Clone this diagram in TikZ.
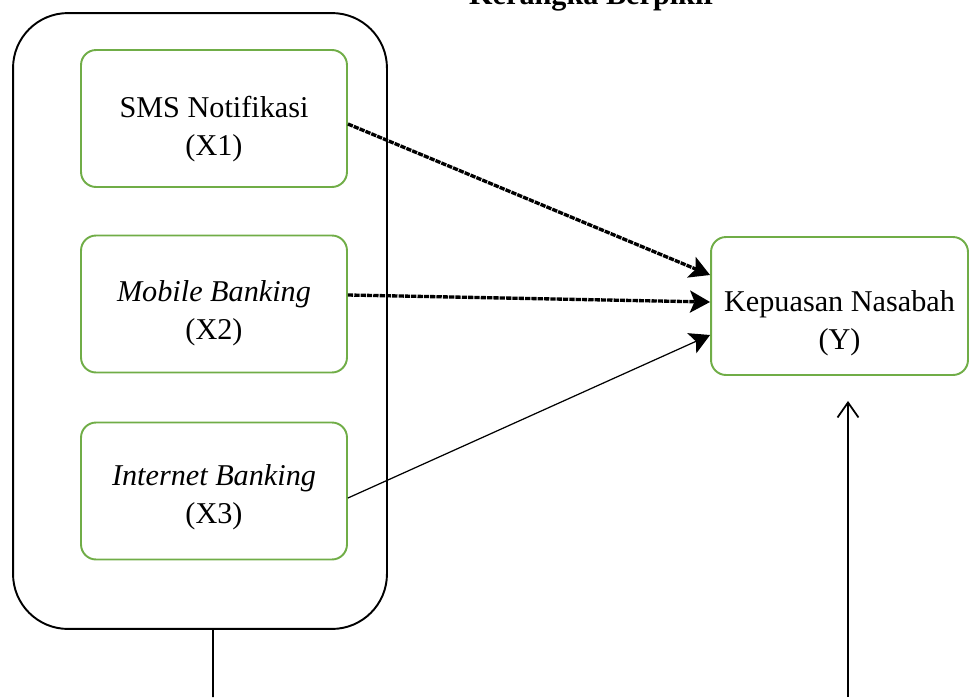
\documentclass[tikz,border=0pt]{standalone}
\usepackage{fontspec}
\setmainfont{Liberation Serif}
\usetikzlibrary{calc}
\usetikzlibrary{positioning}
\usetikzlibrary{arrows.meta}
\definecolor{hijau}{RGB}{112,173,71}
\tikzset{
	>={Stealth[length=0.4cm,width=0.44cm,inset=0.09cm]},
	rahmen/.style={
		rectangle,
		rounded corners=1.1cm,
		draw=black, line width=1.1pt,
		minimum width=7.48cm,
		minimum height=12.32cm},
	kotak/.style={
		rectangle,
		rounded corners=0.3cm,
		draw=hijau, line width=1.1pt,
		minimum width=5.32cm,
		minimum height=2.74cm},
	isi/.style={
		align=center,
		font=\fontsize{17.2}{21.6}\selectfont},
	putus/.style={->, line width=1.9pt, dash pattern=on 3pt off 0.6pt},
	garis/.style={->, line width=0.7pt},
	buka/.style={-{Straight Barb[length=0.3cm,width=0.42cm]}, line width=1pt},
}
\begin{document}
\begin{tikzpicture}
			[x=0.02cm, y=-0.02cm]
			\useasboundingbox (0,0) rectangle (970,697);
			\node[font=\fontsize{17.2}{21.6}\selectfont\bfseries, anchor=base] (judul) at (593,4) {Kerangka Berpikir};
			\node[rahmen] (rahmen) at (200,321) {};
			\node[kotak] (satu) at (214,118.5) {};
			\node[kotak] (dua) at (214,304) {};
			\node[kotak] (tiga) at (214,491) {};
			\node[kotak, minimum width=5.14cm, minimum height=2.76cm] (hasil) at (839.5,306) {};
			\node[isi] (satu-t) at ([yshift=-0.21cm]satu.center) {SMS Notifikasi\\(X1)};
			\node[isi] (dua-t) at ([yshift=-0.18cm]dua.center) {\textit{Mobile Banking}\\(X2)};
			\node[isi] (tiga-t) at ([yshift=-0.12cm]tiga.center) {\textit{Internet Banking}\\(X3)};
			\node[isi] (hasil-t) at ([yshift=-0.34cm]hasil.center) {Kepuasan Nasabah\\(Y)};
			% panah ke Y
			\draw[putus] ([yshift=-0.11cm]satu.east) -- ([yshift=0.62cm]hasil.west);
			\draw[putus] ([yshift=0.18cm]dua.east) -- ([yshift=0.08cm]hasil.west);
			\draw[garis] ([yshift=-0.14cm]tiga.east) -- ([yshift=-0.58cm]hasil.west);
			% garis bawah
			\coordinate (bawahKiri) at (213,697);
			\coordinate (bawahKanan) at (848,697);
			\draw[line width=1pt] ([xshift=0.26cm]rahmen.south) -- (bawahKiri);
			\draw[buka, shorten >=0.5cm] (bawahKanan) -- (bawahKanan |- hasil.south);
			\end{tikzpicture}
\end{document}
